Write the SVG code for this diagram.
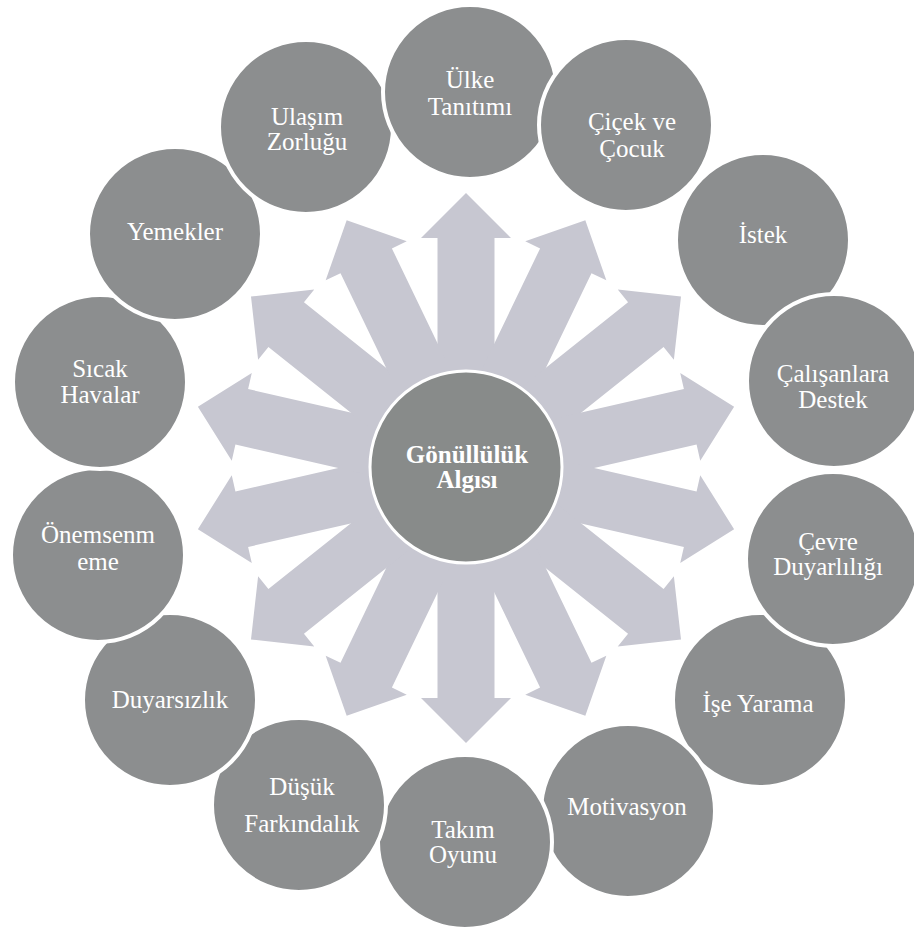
<svg xmlns="http://www.w3.org/2000/svg" xmlns:xlink="http://www.w3.org/1999/xlink" width="914" height="937" viewBox="0 0 914 937">
<style>
.bg{fill:#ffffff}
.arrow{fill:#c7c7d1}
.node{fill:#8c8e8f;stroke:#ffffff;stroke-width:4}
.hub{fill:#888b8a;stroke:#ffffff;stroke-width:3}
.lbl{font-family:"Liberation Serif","Times New Roman",serif;font-size:25px;fill:#ffffff;text-anchor:middle}
.hubl{font-family:"Liberation Serif","Times New Roman",serif;font-size:25px;font-weight:bold;fill:#ffffff;text-anchor:middle}
</style>
<defs>
<path id="arr" d="M0,-28.5 L230,-28.5 L230,-45 L275,0 L230,45 L230,28.5 L0,28.5 Z"/>
</defs>
<rect class="bg" x="0" y="0" width="914" height="937"/>
<g id="connectors" class="arrow">
<use xlink:href="#arr" href="#arr" transform="translate(466,468) rotate(-90)"/>
<use xlink:href="#arr" href="#arr" transform="translate(466,468) rotate(-64.286)"/>
<use xlink:href="#arr" href="#arr" transform="translate(466,468) rotate(-38.571)"/>
<use xlink:href="#arr" href="#arr" transform="translate(466,468) rotate(-12.857)"/>
<use xlink:href="#arr" href="#arr" transform="translate(466,468) rotate(12.857)"/>
<use xlink:href="#arr" href="#arr" transform="translate(466,468) rotate(38.571)"/>
<use xlink:href="#arr" href="#arr" transform="translate(466,468) rotate(64.286)"/>
<use xlink:href="#arr" href="#arr" transform="translate(466,468) rotate(90)"/>
<use xlink:href="#arr" href="#arr" transform="translate(466,468) rotate(115.714)"/>
<use xlink:href="#arr" href="#arr" transform="translate(466,468) rotate(141.429)"/>
<use xlink:href="#arr" href="#arr" transform="translate(466,468) rotate(167.143)"/>
<use xlink:href="#arr" href="#arr" transform="translate(466,468) rotate(192.857)"/>
<use xlink:href="#arr" href="#arr" transform="translate(466,468) rotate(218.571)"/>
<use xlink:href="#arr" href="#arr" transform="translate(466,468) rotate(244.286)"/>
</g>
<g id="center">
<circle class="hub" cx="466" cy="467" r="96"/>
<text class="hubl"><tspan x="467" y="463">Gönüllülük</tspan><tspan x="467" y="488">Algısı</tspan></text>
</g>
<g id="n-ise-yarama">
<circle class="node" cx="760" cy="700" r="87"/>
<text class="lbl" x="758" y="712">İşe Yarama</text>
</g>
<g id="n-motivasyon">
<circle class="node" cx="628" cy="811" r="87"/>
<text class="lbl" x="627" y="815">Motivasyon</text>
</g>
<g id="n-takim-oyunu">
<circle class="node" cx="465" cy="842" r="87"/>
<text class="lbl"><tspan x="463" y="838">Takım</tspan><tspan x="463" y="863">Oyunu</tspan></text>
</g>
<g id="n-dusuk-farkindalik">
<circle class="node" cx="299" cy="805" r="87"/>
<text class="lbl"><tspan x="302" y="795">Düşük</tspan><tspan x="302" y="832">Farkındalık</tspan></text>
</g>
<g id="n-duyarsizlik">
<circle class="node" cx="170" cy="700" r="87"/>
<text class="lbl" x="170" y="708">Duyarsızlık</text>
</g>
<g id="n-onemsenmeme">
<circle class="node" cx="98" cy="555" r="87"/>
<text class="lbl"><tspan x="98" y="543">Önemsenm</tspan><tspan x="98" y="570">eme</tspan></text>
</g>
<g id="n-sicak-havalar">
<circle class="node" cx="100" cy="382" r="87"/>
<text class="lbl"><tspan x="100" y="377">Sıcak</tspan><tspan x="100" y="403">Havalar</tspan></text>
</g>
<g id="n-yemekler">
<circle class="node" cx="175" cy="234" r="87"/>
<text class="lbl" x="175" y="240">Yemekler</text>
</g>
<g id="n-ulasim-zorlugu">
<circle class="node" cx="306" cy="127" r="87"/>
<text class="lbl"><tspan x="307" y="125">Ulaşım</tspan><tspan x="307" y="150">Zorluğu</tspan></text>
</g>
<g id="n-ulke-tanitimi">
<circle class="node" cx="470" cy="92" r="87"/>
<text class="lbl"><tspan x="470" y="88">Ülke</tspan><tspan x="470" y="115">Tanıtımı</tspan></text>
</g>
<g id="n-cicek-ve-cocuk">
<circle class="node" cx="626" cy="125" r="87"/>
<text class="lbl"><tspan x="632" y="130">Çiçek ve</tspan><tspan x="632" y="157">Çocuk</tspan></text>
</g>
<g id="n-istek">
<circle class="node" cx="763" cy="240" r="87"/>
<text class="lbl" x="763" y="243">İstek</text>
</g>
<g id="n-calisanlara-destek">
<circle class="node" cx="834" cy="381" r="87"/>
<text class="lbl"><tspan x="833" y="382">Çalışanlara</tspan><tspan x="833" y="408">Destek</tspan></text>
</g>
<g id="n-cevre-duyarliligi">
<circle class="node" cx="833" cy="559" r="87"/>
<text class="lbl"><tspan x="828" y="550">Çevre</tspan><tspan x="828" y="575">Duyarlılığı</tspan></text>
</g>
</svg>
